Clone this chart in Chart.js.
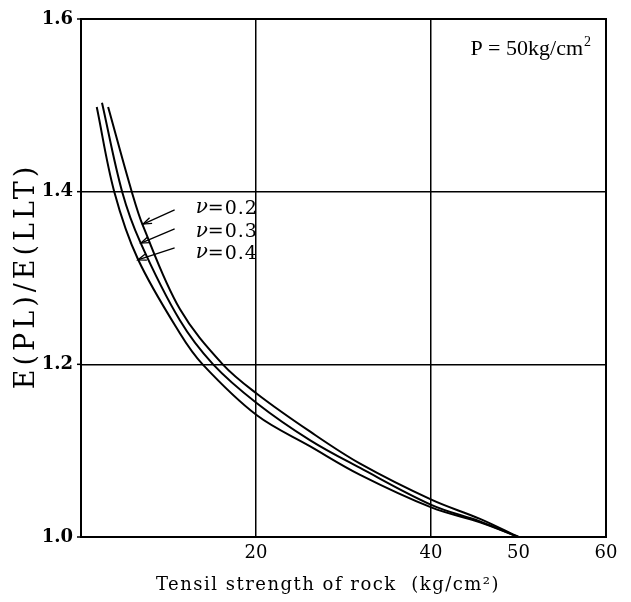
<!DOCTYPE html>
<html>
<head>
<meta charset="utf-8">
<script src="https://cdn.jsdelivr.net/npm/chart.js@4.4.1/dist/chart.umd.min.js"></script>
<style>
  html, body { margin: 0; padding: 0; background: #fff; }
  #wrap { width: 631px; height: 602px; }
</style>
</head>
<body>
<div id="wrap"><canvas id="ratioChart" width="631" height="602"></canvas></div>
<script>
// ## E(PL)/E(LLT) vs tensile strength ##

const xTicks = [0, 20, 40, 50, 60];
const yTicks = [1.0, 1.2, 1.4, 1.6];

const nu02X = [3.1, 5.8, 7.1, 11.3, 16.2, 20.1, 26.2, 31.9, 40.1, 45.6, 50];
const nu02Y = [1.498, 1.4, 1.36, 1.264, 1.2, 1.166, 1.122, 1.085, 1.043, 1.021, 1.0];

const nu03X = [2.4, 4.7, 6.8, 11.3, 15.1, 20.1, 26.2, 31.9, 40.1, 45.6, 50];
const nu03Y = [1.503, 1.4, 1.341, 1.251, 1.2, 1.155, 1.112, 1.08, 1.037, 1.018, 1.0];

const nu04X = [1.8, 3.8, 6.5, 11.3, 13.9, 20.1, 26.2, 31.9, 40.1, 45.6, 50];
const nu04Y = [1.498, 1.4, 1.322, 1.236, 1.2, 1.141, 1.105, 1.072, 1.034, 1.017, 1.0];

// curve labels with arrows
const curveLabels = ["ν=0.2", "ν=0.3", "ν=0.4"];
const labelX = [13.1, 13.1, 13.1];
const labelY = [1.381, 1.354, 1.329];
const arrowFromX = [10.7, 10.7, 10.7];
const arrowFromY = [1.379, 1.357, 1.335];
const arrowTipX = [7.1, 6.85, 6.5];
const arrowTipY = [1.3625, 1.3405, 1.321];

const toPoints = (xs, ys) => xs.map((x, i) => ({ x: x, y: ys[i] }));

const lineStyle = {
  borderColor: "#000",
  borderWidth: 2,
  pointRadius: 0,
  fill: false,
  tension: 0.35,
};

const decorPlugin = {
  id: "decor",
  afterDraw(chart) {
    const ctx = chart.ctx;
    const area = chart.chartArea;
    const xs = chart.scales.x;
    const ys = chart.scales.y;
    ctx.save();

    // frame
    ctx.strokeStyle = "#000";
    ctx.lineWidth = 2;
    ctx.strokeRect(area.left, area.top, area.right - area.left, area.bottom - area.top);

    // small ticks on the left axis
    ctx.lineWidth = 1.5;
    yTicks.forEach((v) => {
      const py = ys.getPixelForValue(v);
      ctx.beginPath();
      ctx.moveTo(area.left - 4, py);
      ctx.lineTo(area.left, py);
      ctx.stroke();
    });

    // curve labels and arrows
    ctx.fillStyle = "#000";
    ctx.lineWidth = 1.3;
    curveLabels.forEach((txt, i) => {
      const lx = xs.getPixelForValue(labelX[i]);
      const ly = ys.getPixelForValue(labelY[i]);
      ctx.font = "italic 20px 'DejaVu Serif'";
      ctx.textBaseline = "middle";
      ctx.textAlign = "left";
      ctx.fillText("ν", lx, ly);
      const nuW = ctx.measureText("ν").width;
      ctx.font = "19px 'DejaVu Serif'";
      ctx.letterSpacing = "1px";
      ctx.fillText(txt.slice(1), lx + nuW, ly + 1);
      ctx.letterSpacing = "0px";

      const fx = xs.getPixelForValue(arrowFromX[i]);
      const fy = ys.getPixelForValue(arrowFromY[i]);
      const tx = xs.getPixelForValue(arrowTipX[i]);
      const ty = ys.getPixelForValue(arrowTipY[i]);
      ctx.beginPath();
      ctx.moveTo(fx, fy);
      ctx.lineTo(tx, ty);
      ctx.stroke();
      const ang = Math.atan2(ty - fy, tx - fx);
      const head = 9;
      ctx.beginPath();
      ctx.moveTo(tx - head * Math.cos(ang - 0.35), ty - head * Math.sin(ang - 0.35));
      ctx.lineTo(tx, ty);
      ctx.lineTo(tx - head * Math.cos(ang + 0.35), ty - head * Math.sin(ang + 0.35));
      ctx.stroke();
    });

    // pressure note
    ctx.font = "22px 'Liberation Serif'";
    ctx.textAlign = "left";
    ctx.textBaseline = "alphabetic";
    const px = xs.getPixelForValue(44.5);
    const py = ys.getPixelForValue(1.558);
    const note = "P = 50kg/cm";
    ctx.fillText(note, px, py);
    const pw = ctx.measureText(note).width;
    ctx.font = "14px 'Liberation Serif'";
    ctx.fillText("2", px + pw + 1, py - 9);

    // axis titles
    ctx.font = "18px 'DejaVu Serif'";
    ctx.textAlign = "center";
    ctx.textBaseline = "middle";
    ctx.letterSpacing = "1.5px";
    ctx.fillText("Tensil strength of rock  (kg/cm²)", 328, 585);

    ctx.translate(27, 276);
    ctx.rotate(-Math.PI / 2);
    ctx.font = "27px 'DejaVu Serif'";
    ctx.letterSpacing = "4px";
    ctx.fillText("E(PL)/E(LLT)", 0, 0);
    ctx.restore();
  },
};

const ctx = document.getElementById("ratioChart").getContext("2d");

window.ratioChart = new Chart(ctx, {
  type: "line",
  data: {
    datasets: [
      Object.assign({ label: "ν=0.2", data: toPoints(nu02X, nu02Y) }, lineStyle),
      Object.assign({ label: "ν=0.3", data: toPoints(nu03X, nu03Y) }, lineStyle),
      Object.assign({ label: "ν=0.4", data: toPoints(nu04X, nu04Y) }, lineStyle),
    ],
  },
  options: {
    responsive: false,
    animation: false,
    layout: {
      padding: { top: 19, right: 25, left: 0, bottom: 0 },
    },
    plugins: {
      legend: { display: false },
      tooltip: { enabled: false },
    },
    scales: {
      x: {
        type: "linear",
        min: 0,
        max: 60,
        afterBuildTicks: (scale) => {
          scale.ticks = xTicks.map((v) => ({ value: v }));
        },
        afterFit: (scale) => {
          scale.height = 65;
        },
        ticks: {
          autoSkip: false,
          maxRotation: 0,
          padding: 6,
          color: "#000",
          font: { family: "DejaVu Serif", size: 18 },
          callback: (v) => (v === 0 ? "" : String(v)),
        },
        grid: {
          drawTicks: false,
          lineWidth: 1.5,
          color: (c) => (c.tick && (c.tick.value === 20 || c.tick.value === 40) ? "#000" : "rgba(0,0,0,0)"),
        },
        border: { display: false },
      },
      y: {
        min: 1.0,
        max: 1.6,
        afterBuildTicks: (scale) => {
          scale.ticks = yTicks.map((v) => ({ value: v }));
        },
        afterFit: (scale) => {
          scale.width = 81;
        },
        ticks: {
          padding: 8,
          color: "#000",
          font: { family: "DejaVu Serif", size: 18, weight: "bold" },
          callback: (v) => v.toFixed(1),
        },
        grid: {
          drawTicks: false,
          lineWidth: 1.5,
          color: (c) => (c.tick && (c.tick.value === 1.2 || c.tick.value === 1.4) ? "#000" : "rgba(0,0,0,0)"),
        },
        border: { display: false },
      },
    },
  },
  plugins: [decorPlugin],
});
</script>
</body>
</html>
